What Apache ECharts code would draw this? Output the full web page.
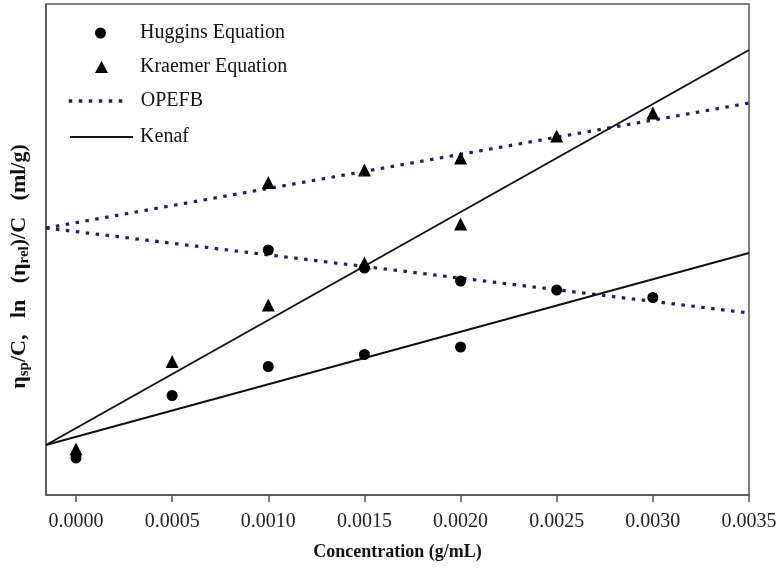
<!DOCTYPE html>
<html>
<head>
<meta charset="utf-8">
<script src="https://cdn.jsdelivr.net/npm/echarts@6/dist/echarts.min.js"></script>
<style>
html,body{margin:0;padding:0;background:#fff;}
#chart{width:781px;height:574px;}
</style>
</head>
<body>
<div id="chart"></div>
<script>
// x tick values (g/mL)
const xTicks = [0, 0.0005, 0.0010, 0.0015, 0.0020, 0.0025, 0.0030, 0.0035];
const xMin = -0.000156;
const xMax = 0.0035;

// Data points: [concentration, value]
const kenafHuggins  = [[0, 3.7], [0.0005, 9.95], [0.0010, 12.85], [0.0015, 14.05], [0.0020, 14.8]];
const kenafKraemer  = [[0, 4.6], [0.0005, 13.35], [0.0010, 19.0], [0.0015, 23.2], [0.0020, 27.1]];
const opefbHuggins  = [[0.0010, 24.5], [0.0015, 22.7], [0.0020, 21.4], [0.0025, 20.5], [0.0030, 19.75]];
const opefbKraemer  = [[0.0010, 31.25], [0.0015, 32.5], [0.0020, 33.7], [0.0025, 35.9], [0.0030, 38.2]];

// Fitted lines (end values at xMin and xMax)
const kenafHugginsFit = [[xMin, 5.0], [xMax, 24.2]];
const kenafKraemerFit = [[xMin, 5.0], [xMax, 44.5]];
const opefbHugginsFit = [[xMin, 26.7], [xMax, 18.2]];
const opefbKraemerFit = [[xMin, 26.7], [xMax, 39.2]];

const legendNames = ['Huggins Equation', 'Kraemer Equation', 'OPEFB', 'Kenaf'];

const FONT = 'Liberation Serif';
const chart = echarts.init(document.getElementById('chart'), null, {renderer: 'canvas'});

const dotted = {color: '#1f1f6b', width: 3.2, type: [3.5, 6.5], cap: 'butt'};
const solid = {color: '#111', width: 2};
function lt(padLeft) { return {fontFamily: FONT, fontSize: 20, color: '#111', padding: [0, 0, 0, padLeft]}; }

chart.setOption({
  animation: false,
  backgroundColor: '#fff',
  textStyle: {fontFamily: FONT, color: '#000'},
  grid: {left: 46, right: 32, top: 4, bottom: 79, show: true, borderColor: '#555', borderWidth: 1.5, containLabel: false, outerBoundsMode: 'none'},
  legend: [
    {data: [legendNames[0]], left: 90, top: 18, itemWidth: 11, itemHeight: 11, textStyle: lt(29)},
    {data: [legendNames[1]], left: 90, top: 52, itemWidth: 13, itemHeight: 12, textStyle: lt(27)},
    {data: [{name: legendNames[2], itemStyle: {opacity: 0}}], left: 62, top: 86, itemWidth: 57, itemHeight: 12, textStyle: lt(10),
     lineStyle: {width: 3.5, type: [3.5, 6.5], color: '#1f1f6b'}},
    {data: [{name: legendNames[3], itemStyle: {opacity: 0}}], left: 64, top: 122, itemWidth: 63, itemHeight: 12, textStyle: lt(2),
     lineStyle: {width: 2.2, color: '#111'}}
  ],
  xAxis: {
    type: 'value',
    min: xMin,
    max: xMax,
    name: 'Concentration (g/mL)',
    nameLocation: 'middle',
    nameGap: 48,
    nameTextStyle: {fontFamily: FONT, fontSize: 18, fontWeight: 'bold', color: '#111'},
    splitLine: {show: false},
    axisLine: {show: true, lineStyle: {color: '#555', width: 1.5}},
    axisTick: {show: true, length: 7, lineStyle: {color: '#555', width: 1.5}, customValues: xTicks},
    axisLabel: {
      show: true, margin: 17, fontFamily: FONT, fontSize: 20, color: '#222',
      customValues: xTicks,
      formatter: v => Number(v).toFixed(4)
    }
  },
  yAxis: {
    type: 'value',
    min: 0,
    max: 49.1,
    name: '{m|η}{s|sp}{m|/C,   ln   (η}{s|rel}{m|)/C   (ml/g)}',
    nameLocation: 'middle',
    nameGap: 14,
    nameRotate: 90,
    nameTextStyle: {
      fontFamily: FONT, fontWeight: 'bold', color: '#111', padding: [0, 34, 0, 0],
      rich: {
        m: {fontFamily: FONT, fontSize: 22, fontWeight: 'bold', color: '#111', lineHeight: 26, verticalAlign: 'middle'},
        s: {fontFamily: FONT, fontSize: 15, fontWeight: 'bold', color: '#111', lineHeight: 14, verticalAlign: 'bottom'}
      }
    },
    splitLine: {show: false},
    axisLine: {show: true, onZero: false, lineStyle: {color: '#555', width: 1.5}},
    axisTick: {show: false},
    axisLabel: {show: false}
  },
  series: [
    {name: 'OPEFB', type: 'line', data: opefbKraemerFit, symbol: 'none', lineStyle: dotted, itemStyle: {color: '#1f1f6b'}, z: 2},
    {name: 'OPEFB', type: 'line', data: opefbHugginsFit, symbol: 'none', lineStyle: dotted, itemStyle: {color: '#1f1f6b'}, z: 2},
    {name: 'Kenaf', type: 'line', data: kenafKraemerFit, symbol: 'none', lineStyle: solid, itemStyle: {color: '#111'}, z: 2},
    {name: 'Kenaf', type: 'line', data: kenafHugginsFit, symbol: 'none', lineStyle: solid, itemStyle: {color: '#111'}, z: 2},
    {name: 'Huggins Equation', type: 'scatter', data: kenafHuggins.concat(opefbHuggins), symbol: 'circle', symbolSize: 11, itemStyle: {color: '#000', opacity: 1}, z: 3},
    {name: 'Kraemer Equation', type: 'scatter', data: kenafKraemer.concat(opefbKraemer), symbol: 'triangle', symbolSize: 13, itemStyle: {color: '#000', opacity: 1}, z: 3}
  ]
});
</script>
</body>
</html>
